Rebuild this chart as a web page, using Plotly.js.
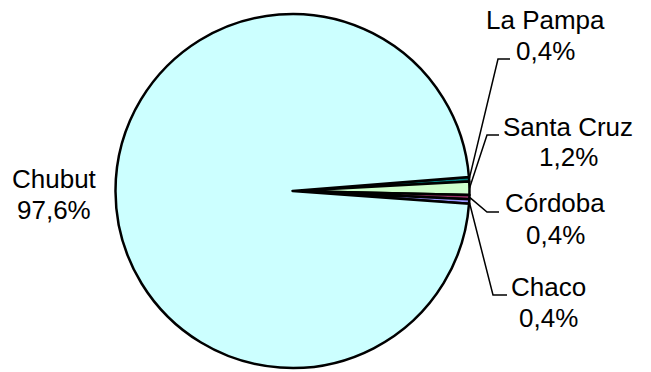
<!DOCTYPE html>
<html>
<head>
<meta charset="utf-8">
<script src="https://cdn.plot.ly/plotly-3.0.1.min.js"></script>
<style>
  html, body { margin: 0; padding: 0; background: #fff; }
  #chart { width: 651px; height: 372px; }
</style>
</head>
<body>
<div id="chart"></div>
<script>
// provinces in clockwise order starting just above 3 o'clock
const provinces = ['La Pampa', 'Santa Cruz', 'Córdoba', 'Chaco', 'Chubut'];
const shares = [0.4, 1.2, 0.4, 0.4, 97.6];
const sliceColors = ['#008080', '#CCFFCC', '#993366', '#9999FF', '#CCFFFF'];

const W = 651, H = 372;
const pie = { cx: 292.5, cy: 191, r: 177, rotation: 85.5 };
const fontSize = 26;
const lineGap = 31;

// label layout in pixels: text centre x, first baseline, leader elbow and end (null = no leader)
const labelPos = [
  { x: 545, base: 29,  elbow: [498, 59],  end: [510, 59] },
  { x: 568, base: 135, elbow: [487, 135], end: [499, 135] },
  { x: 555, base: 212, elbow: [487, 212], end: [499, 212] },
  { x: 548, base: 295, elbow: [493, 295], end: [507, 295] },
  { x: 54,  base: 187, elbow: null,       end: null }
];

const px = x => x / W;
const py = y => 1 - y / H;
const fmt = v => v.toFixed(1).replace('.', ',') + '%';

const total = shares.reduce((a, b) => a + b, 0);
let angle = pie.rotation;
const midAngles = shares.map(v => {
  const span = v / total * 360;
  const mid = angle + span / 2;
  angle += span;
  return mid;
});

const textFont = { family: 'Liberation Sans, Arial, sans-serif', size: fontSize, color: '#000' };
const annotations = [];
const shapes = [];

provinces.forEach((name, i) => {
  const p = labelPos[i];
  [name, fmt(shares[i])].forEach((txt, k) => {
    annotations.push({
      xref: 'paper', yref: 'paper',
      x: px(p.x), y: py(p.base + k * lineGap - 8.5),
      xanchor: 'center', yanchor: 'middle',
      text: txt, showarrow: false, font: textFont
    });
  });
  if (p.elbow) {
    const a = midAngles[i] * Math.PI / 180;
    const sx = pie.cx + pie.r * Math.sin(a);
    const sy = pie.cy - pie.r * Math.cos(a);
    shapes.push({
      type: 'path', xref: 'paper', yref: 'paper',
      path: `M ${px(sx)} ${py(sy)} L ${px(p.elbow[0])} ${py(p.elbow[1])} L ${px(p.end[0])} ${py(p.end[1])}`,
      line: { color: '#000', width: 1.5 }
    });
  }
});

const data = [{
  type: 'pie',
  labels: provinces,
  values: shares,
  sort: false,
  direction: 'clockwise',
  rotation: pie.rotation,
  textinfo: 'none',
  hoverinfo: 'label+percent',
  marker: { colors: sliceColors, line: { color: '#000', width: 2.5 } },
  domain: {
    x: [px(pie.cx - pie.r), px(pie.cx + pie.r)],
    y: [py(pie.cy + pie.r), py(pie.cy - pie.r)]
  }
}];

const layout = {
  width: W, height: H,
  margin: { l: 0, r: 0, t: 0, b: 0 },
  paper_bgcolor: '#fff',
  showlegend: false,
  annotations: annotations,
  shapes: shapes
};

Plotly.newPlot('chart', data, layout, { staticPlot: true });
</script>
</body>
</html>
